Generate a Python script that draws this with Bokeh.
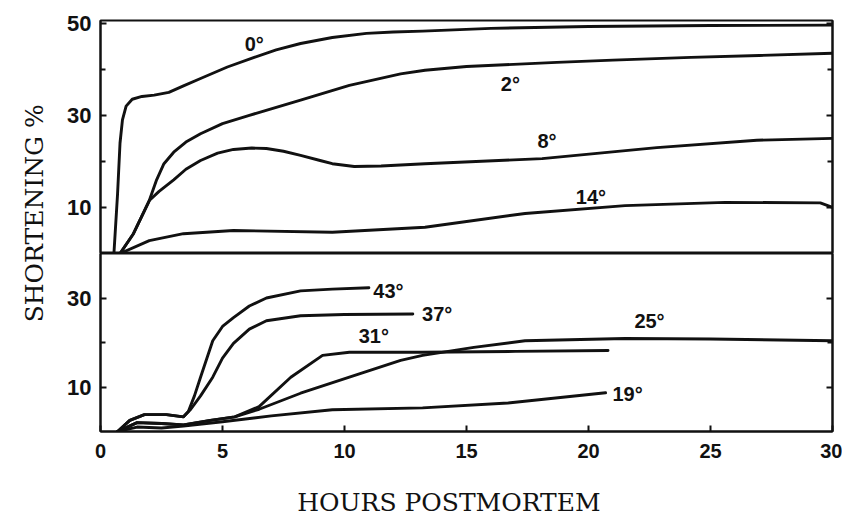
from bokeh.plotting import figure
from bokeh.layouts import row, column
from bokeh.models import FixedTicker, LinearAxis, Range1d, Label
from bokeh.embed import file_html
from bokeh.resources import INLINE
from bokeh.core.properties import value

# ---------------- data ----------------
x_ticks = [0, 5, 10, 15, 20, 25, 30]
top_y_ticks = [10, 30, 50]
top_y_minor = [20, 40]
bot_y_ticks = [10, 30]
bot_y_minor = [20]

# upper panel: 0, 2, 8, 14 degrees
t0_x = [0.55, 0.7, 0.8, 0.9, 1.05, 1.3, 1.7, 2.2, 2.8, 3.4, 4.1, 5.2, 6.3, 7.2, 8.2, 9.5, 10.9, 12, 13.2, 16, 20, 25, 30]
t0_y = [0, 13, 24, 29, 32, 33.5, 34.1, 34.4, 35.0, 36.4, 38, 40.5, 42.6, 44.2, 45.6, 46.9, 47.8, 48.1, 48.3, 48.9, 49.3, 49.5, 49.6]

t2_x = [0.8, 1.35, 2.0, 2.3, 2.6, 3.0, 3.5, 4.1, 5.0, 6.1, 8.2, 10.2, 12.3, 13.3, 15, 18.7, 21, 24.2, 27, 30]
t2_y = [0, 4.3, 11.5, 16.0, 19.5, 22.0, 24.2, 26, 28.2, 30, 33.3, 36.5, 39, 39.8, 40.6, 41.5, 42, 42.6, 43, 43.5]

t8_x = [0.8, 1.35, 2.0, 2.4, 3.0, 3.5, 4.1, 4.8, 5.45, 6.2, 6.8, 7.5, 8.2, 9.0, 9.5, 10.4, 11.5, 13.3, 18.1, 22.8, 26.9, 30]
t8_y = [0, 4.3, 11.5, 13.5, 16, 18.3, 20.2, 21.8, 22.6, 22.9, 22.8, 22.2, 21.3, 20.2, 19.5, 18.9, 19.0, 19.5, 20.6, 23, 24.6, 25]

t14_x = [0.8, 2.0, 3.4, 5.45, 9.5, 13.3, 17.4, 21.5, 25.6, 29.5, 30]
t14_y = [0, 2.8, 4.3, 5.0, 4.6, 5.7, 8.7, 10.4, 11.1, 11.0, 10.0]

top_labels = ["0°", "2°", "8°", "14°"]
top_label_x = [6.3, 16.8, 18.3, 20.1]
top_label_y = [45.5, 36.8, 24.5, 12.3]

# lower panel: 43, 37, 31, 25, 19 degrees
b43_x = [0.7, 1.2, 1.8, 2.7, 3.4, 3.6, 3.85, 4.1, 4.6, 5.0, 5.45, 6.1, 6.8, 8.2, 9.5, 11]
b43_y = [0, 2.5, 3.8, 3.8, 3.3, 4.5, 8, 12.2, 20.4, 23.6, 25.6, 28.2, 30, 31.6, 32, 32.3]

b37_x = [0.7, 1.2, 1.8, 2.7, 3.4, 3.7, 4.1, 4.6, 5.0, 5.45, 6.1, 6.8, 8.2, 10, 12.8]
b37_y = [0, 2.5, 3.8, 3.8, 3.3, 5, 8, 12.2, 16.5, 19.8, 23.0, 24.9, 26, 26.3, 26.4]

b31_x = [0.7, 1.5, 2.5, 3.4, 4.5, 5.5, 6.5, 7.8, 9.1, 10.2, 13.2, 17, 20.8]
b31_y = [0, 2.0, 1.8, 1.5, 2.5, 3.3, 5.6, 12.2, 17.1, 17.8, 17.8, 18.0, 18.2]

b25_x = [0.7, 1.5, 2.5, 3.4, 4.5, 5.5, 6.5, 8.2, 10.2, 12.3, 13.2, 15.3, 17.4, 21.5, 25, 30]
b25_y = [0, 2.0, 1.8, 1.5, 2.5, 3.3, 5.0, 8.6, 12.2, 16, 17.1, 18.9, 20.4, 20.9, 20.8, 20.4]

b19_x = [0.7, 1.5, 2.5, 3.4, 5, 7, 9.5, 13.2, 16.7, 20.7]
b19_y = [0, 1.0, 0.8, 1.2, 2.2, 3.5, 4.9, 5.3, 6.4, 8.7]

bot_labels = ["43°", "37°", "31°", "25°", "19°"]
bot_label_x = [11.8, 13.8, 11.2, 22.5, 21.6]
bot_label_y = [31.5, 26.4, 21.5, 24.8, 8.5]

x_title = "HOURS POSTMORTEM"
y_title = "SHORTENING %"

# ---------------- styling helpers ----------------
SANS = "Liberation Sans"
SERIF = "DejaVu Serif"
INK = "#111111"
LW = 2.9


def style_axis(ax, ticker, minor, show_labels, size="20px", standoff=12):
    ax.ticker = FixedTicker(ticks=ticker, minor_ticks=minor)
    ax.axis_line_color = INK
    ax.axis_line_width = 2
    ax.major_tick_in = 6
    ax.major_tick_out = 0
    ax.minor_tick_in = 5
    ax.minor_tick_out = 0
    ax.major_tick_line_color = INK
    ax.major_tick_line_width = 2
    ax.minor_tick_line_color = INK
    ax.minor_tick_line_width = 2
    if show_labels:
        ax.major_label_text_font = SANS
        ax.major_label_text_font_style = "bold"
        ax.major_label_text_font_size = size
        ax.major_label_text_color = INK
        ax.major_label_standoff = standoff
    else:
        ax.major_label_text_font_size = "1px"
        ax.major_label_text_color = None
        ax.major_label_standoff = 0


def make_panel(height, y_end, border_top, border_bottom):
    p = figure(width=790, height=height, x_range=Range1d(0, 30), y_range=Range1d(0, y_end),
               output_backend="svg", toolbar_location=None,
               min_border_left=48, min_border_right=10,
               min_border_top=border_top, min_border_bottom=border_bottom,
               background_fill_color="white", border_fill_color="white")
    p.grid.visible = False
    p.outline_line_color = INK
    p.outline_line_width = 2
    return p


def text_strip(width, height):
    s = figure(width=width, height=height, x_range=Range1d(0, 1), y_range=Range1d(0, 1),
               output_backend="svg", toolbar_location=None,
               min_border=0, background_fill_color="white", border_fill_color="white")
    s.axis.visible = False
    s.grid.visible = False
    s.outline_line_color = None
    return s


# ---------------- upper panel ----------------
top = make_panel(253, 50.6, 20, 0)
top.xaxis.visible = False
style_axis(top.yaxis[0], top_y_ticks, top_y_minor, True, "22px", 9)
ry = LinearAxis()
style_axis(ry, top_y_ticks, top_y_minor, False)
top.add_layout(ry, "right")

for xs, ys in [(t0_x, t0_y), (t2_x, t2_y), (t8_x, t8_y), (t14_x, t14_y)]:
    top.line(xs, ys, line_color=INK, line_width=LW, line_join="round", line_cap="round")
top.text(x=top_label_x, y=top_label_y, text=top_labels, text_font=value(SANS),
         text_font_style="bold", text_font_size="20px", text_color=INK,
         text_align="center", text_baseline="middle")

# ---------------- lower panel ----------------
bot = make_panel(218, 40, 0, 40)
style_axis(bot.xaxis[0], x_ticks, [], True, "20px", 12)
style_axis(bot.yaxis[0], bot_y_ticks, bot_y_minor, True, "22px", 9)
ry2 = LinearAxis()
style_axis(ry2, bot_y_ticks, bot_y_minor, False)
bot.add_layout(ry2, "right")

for xs, ys in [(b43_x, b43_y), (b37_x, b37_y), (b31_x, b31_y), (b25_x, b25_y), (b19_x, b19_y)]:
    bot.line(xs, ys, line_color=INK, line_width=LW, line_join="round", line_cap="round")
bot.text(x=bot_label_x, y=bot_label_y, text=bot_labels, text_font=value(SANS),
         text_font_style="bold", text_font_size="20px", text_color=INK,
         text_align="center", text_baseline="middle")

# ---------------- x title strip ----------------
xt = text_strip(790, 48)
xt.add_layout(Label(x=0.476, y=0.36, text=x_title, text_font=SERIF,
                    text_font_size="25px", text_color=INK,
                    text_align="center", text_baseline="middle"))

# ---------------- y title strip ----------------
lab = text_strip(52, 519)
lab.add_layout(Label(x=0.66, y=0.59, text=y_title, angle=1.5708,
                     text_font=SERIF, text_font_size="25px", text_color=INK,
                     text_align="center", text_baseline="middle"))

layout = row(lab, column(top, bot, xt, spacing=0), spacing=0)
open("out.html", "w").write(file_html(layout, INLINE))
